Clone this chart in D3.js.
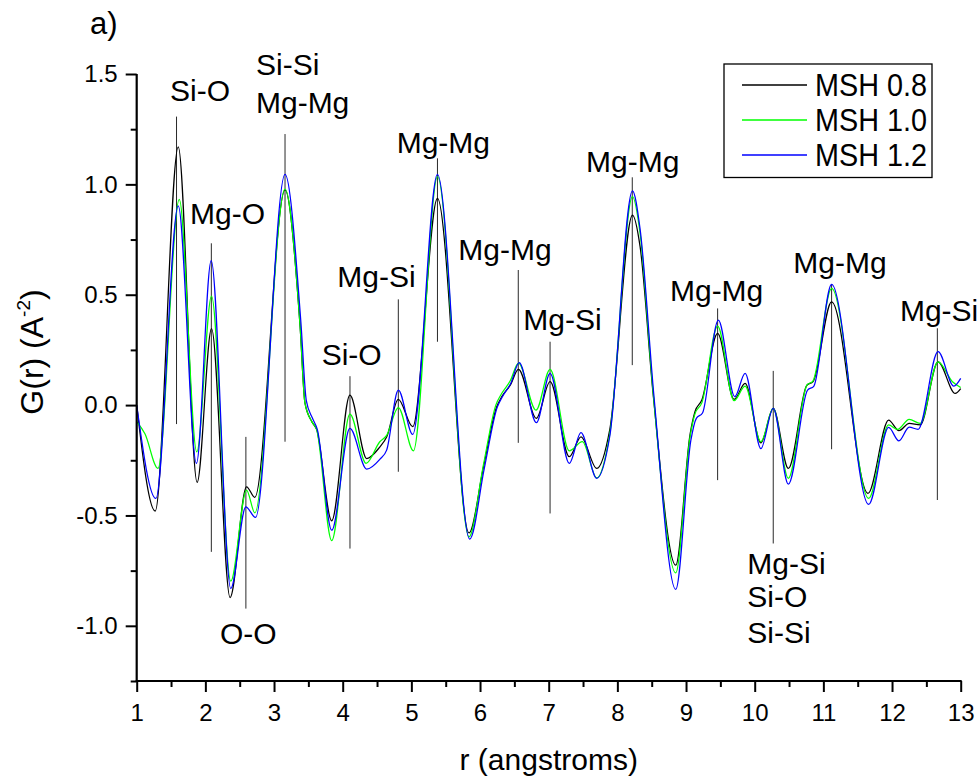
<!DOCTYPE html>
<html><head><meta charset="utf-8">
<script src="https://cdn.jsdelivr.net/npm/d3@7"></script>
<style>body{margin:0;background:#fff}svg{display:block;font-family:"Liberation Sans",Arial,sans-serif}</style>
</head><body><svg id="c" width="979" height="776"></svg>
<script>
// ---------- data ----------
const seriesNames = ["MSH 0.8", "MSH 1.0", "MSH 1.2"];
const seriesColors = ["#000000", "#00ff00", "#0000ff"];

const msh08 = [[1.00,0.00],[1.27,-0.48],[1.605,1.17],[1.88,-0.35],[2.09,0.346],[2.36,-0.872],[2.60,-0.37],[2.72,-0.418],
 [3.16,0.975],[3.38,0.355],[3.45,0.01],[3.55,-0.075],[3.62,-0.11],[3.84,-0.524],[4.105,0.045],[4.35,-0.242],[4.54,-0.19],
 [4.64,-0.145],[4.81,0.026],[5.02,-0.098],[5.38,0.937],[5.84,-0.579],[6.05,-0.28],[6.24,-0.01],[6.32,0.04],[6.44,0.09],
 [6.56,0.162],[6.82,-0.06],[7.02,0.106],[7.30,-0.234],[7.47,-0.144],[7.70,-0.287],[7.89,-0.11],[8.22,0.861],[8.33,0.72],
 [8.52,0.053],[8.85,-0.725],[9.06,-0.13],[9.13,-0.03],[9.23,0.023],[9.46,0.325],[9.70,0.026],[9.86,0.098],[10.09,-0.171],
 [10.27,-0.015],[10.49,-0.287],[10.76,0.09],[10.85,0.106],[11.12,0.468],[11.65,-0.40],[11.95,-0.068],[12.10,-0.116],
 [12.25,-0.083],[12.41,-0.09],[12.67,0.196],[12.92,0.053],[13.0,0.075]];

const msh10 = [[1.00,-0.075],[1.12,-0.13],[1.31,-0.287],[1.62,0.932],[1.875,-0.212],[2.09,0.494],[2.37,-0.798],[2.60,-0.385],
 [2.72,-0.488],[3.16,0.978],[3.38,0.355],[3.45,0.01],[3.55,-0.075],[3.62,-0.11],[3.84,-0.614],[4.105,-0.041],[4.34,-0.264],
 [4.54,-0.166],[4.64,-0.137],[4.81,-0.011],[5.03,-0.207],[5.38,1.035],[5.84,-0.597],[6.05,-0.27],[6.23,0.0],[6.31,0.05],
 [6.44,0.11],[6.56,0.19],[6.815,-0.023],[7.02,0.162],[7.30,-0.207],[7.49,-0.166],[7.70,-0.33],[7.89,-0.13],[8.22,0.944],
 [8.33,0.78],[8.52,0.06],[8.85,-0.76],[9.06,-0.14],[9.13,-0.04],[9.23,0.01],[9.46,0.358],[9.70,0.02],[9.86,0.086],
 [10.09,-0.166],[10.27,-0.015],[10.49,-0.332],[10.76,0.09],[10.85,0.11],[11.12,0.529],[11.66,-0.423],[11.95,-0.09],
 [12.08,-0.11],[12.25,-0.065],[12.41,-0.083],[12.67,0.196],[12.88,0.106],[13.0,0.08]];

const msh12 = [[1.00,0.00],[1.28,-0.423],[1.605,0.902],[1.87,-0.264],[2.085,0.654],[2.37,-0.831],[2.59,-0.461],[2.73,-0.509],
 [3.16,1.045],[3.39,0.38],[3.47,0.02],[3.56,-0.06],[3.63,-0.11],[3.84,-0.567],[4.105,-0.106],[4.35,-0.29],[4.54,-0.246],
 [4.64,-0.204],[4.81,0.068],[5.02,-0.133],[5.38,1.045],[5.85,-0.607],[6.06,-0.29],[6.25,-0.01],[6.33,0.04],[6.45,0.10],
 [6.57,0.192],[6.82,-0.08],[7.02,0.144],[7.30,-0.264],[7.47,-0.125],[7.70,-0.332],[7.89,-0.14],[8.22,0.971],[8.33,0.80],
 [8.53,0.05],[8.85,-0.835],[9.07,-0.16],[9.15,-0.06],[9.24,-0.036],[9.47,0.385],[9.71,0.038],[9.86,0.144],[10.09,-0.197],
 [10.27,-0.015],[10.49,-0.358],[10.77,0.068],[10.86,0.085],[11.12,0.547],[11.66,-0.45],[11.95,-0.101],[12.10,-0.162],
 [12.25,-0.10],[12.38,-0.11],[12.67,0.242],[12.90,0.086],[13.0,0.121]];

const xMajorTicks = [1,2,3,4,5,6,7,8,9,10,11,12,13];
const xMinorTicks = [1.5,2.5,3.5,4.5,5.5,6.5,7.5,8.5,9.5,10.5,11.5,12.5];
const yMajorTicks = [-1.0,-0.5,0.0,0.5,1.0,1.5];
const yMinorTicks = [-1.25,-0.75,-0.25,0.25,0.75,1.25];

// assignment marker lines: position r, top G, bottom G
const markR      = [1.58, 2.087, 2.59, 3.16, 4.106, 4.81, 5.38, 6.557, 7.02, 8.217, 9.46, 10.27, 11.12, 12.66];
const markTop    = [1.307, 0.733, -0.144, 1.228, 0.131, 0.479, 1.118, 0.612, 0.287, 1.032, 0.438, 0.155, 0.544, 0.348];
const markBottom = [-0.086, -0.665, -0.922, -0.166, -0.65, -0.302, 0.287, -0.171, -0.491, 0.181, -0.34, -0.627, -0.2, -0.43];

// assignment labels: text, left r, baseline G
const labelText = ["Si-O","Mg-O","O-O","Si-Si","Mg-Mg","Si-O","Mg-Si","Mg-Mg","Mg-Mg","Mg-Si","Mg-Mg","Mg-Mg",
  "Mg-Si","Si-O","Si-Si","Mg-Mg","Mg-Si"];
const labelR = [1.485, 1.776, 2.213, 2.737, 2.737, 3.694, 3.921, 4.786, 5.683, 6.63, 7.543, 8.766,
  9.892, 9.892, 9.892, 10.562, 12.115];
const labelG = [1.378, 0.820, -1.083, 1.496, 1.322, 0.181, 0.534, 1.144, 0.657, 0.34, 1.058, 0.471,
  -0.766, -0.914, -1.080, 0.60, 0.382];

// ---------- layout ----------
const W = 979, H = 776;
const plot = {left: 136.7, right: 960.7, top: 74, bottom: 681};
const svg = d3.select("#c");

const x = d3.scaleLinear().domain([1, 13]).range([plot.left, plot.right]);
const y = d3.scaleLinear().domain([-1.25, 1.5]).range([plot.bottom, plot.top]);

// marker lines
svg.append("g").selectAll("line").data(markR).join("line")
  .attr("x1", d => x(d)).attr("x2", d => x(d))
  .attr("y1", (d, i) => y(markTop[i])).attr("y2", (d, i) => y(markBottom[i]))
  .attr("stroke", "#2a2a2a").attr("stroke-width", 1);

// curves
const line = d3.line().x(d => x(d[0])).y(d => y(d[1])).curve(d3.curveMonotoneX);
[msh08, msh10, msh12].forEach((s, i) => {
  svg.append("path").datum(s).attr("d", line)
    .attr("fill", "none").attr("stroke", seriesColors[i]).attr("stroke-width", 1.25);
});

// labels
svg.append("g").selectAll("text").data(labelText).join("text")
  .attr("x", (d, i) => x(labelR[i])).attr("y", (d, i) => y(labelG[i]))
  .attr("font-size", 30).attr("fill", "#000").text(d => d);

// axes
const fmt = d => d.toFixed(1);
const xAxisMajor = d3.axisBottom(x).tickValues(xMajorTicks).tickSize(11).tickPadding(12).tickFormat(d3.format("d"));
const xAxisMinor = d3.axisBottom(x).tickValues(xMinorTicks).tickSize(6).tickFormat("");
const yAxisMajor = d3.axisLeft(y).tickValues(yMajorTicks).tickSize(11).tickPadding(8).tickFormat(fmt);
const yAxisMinor = d3.axisLeft(y).tickValues(yMinorTicks).tickSize(6).tickFormat("");

function styleAxis(g) {
  g.select(".domain").remove();
  g.selectAll(".tick line").attr("stroke", "#000").attr("stroke-width", 2);
  g.selectAll(".tick text").attr("font-size", 24).attr("fill", "#000")
    .attr("font-family", '"Liberation Sans",Arial,sans-serif');
}
svg.append("g").attr("transform", `translate(0,${plot.bottom})`).call(xAxisMajor).call(styleAxis);
svg.append("g").attr("transform", `translate(0,${plot.bottom})`).call(xAxisMinor).call(styleAxis);
svg.append("g").attr("transform", `translate(${plot.left},0)`).call(yAxisMajor).call(styleAxis);
svg.append("g").attr("transform", `translate(${plot.left},0)`).call(yAxisMinor).call(styleAxis);

// axis lines
svg.append("line").attr("x1", plot.left).attr("x2", plot.left).attr("y1", plot.top).attr("y2", plot.bottom + 1)
  .attr("stroke", "#000").attr("stroke-width", 2.2);
svg.append("line").attr("x1", plot.left - 1).attr("x2", plot.right + 1).attr("y1", plot.bottom).attr("y2", plot.bottom)
  .attr("stroke", "#000").attr("stroke-width", 2.2);

// axis titles
svg.append("text").attr("x", (plot.left + plot.right) / 2).attr("y", 770).attr("text-anchor", "middle")
  .attr("font-size", 30).text("r (angstroms)");

const yt = svg.append("text").attr("transform", "translate(43,352) rotate(-90)").attr("text-anchor", "middle")
  .attr("font-size", 32);
yt.append("tspan").text("G(r) (A");
yt.append("tspan").attr("font-size", 19).attr("dy", -13).text("-2");
yt.append("tspan").attr("dy", 13).text(")");

// panel label
svg.append("text").attr("x", 90).attr("y", 34).attr("font-size", 31).text("a)");

// legend
const lg = svg.append("g");
lg.append("rect").attr("x", 724).attr("y", 64).attr("width", 208).attr("height", 113.5)
  .attr("fill", "#fff").attr("stroke", "#000").attr("stroke-width", 1.3);
seriesNames.forEach((n, i) => {
  const yy = 85 + i * 35;
  lg.append("line").attr("x1", 742).attr("x2", 807).attr("y1", yy).attr("y2", yy)
    .attr("stroke", seriesColors[i]).attr("stroke-width", 1.3);
  lg.append("text").attr("x", 815).attr("y", yy + 10.7).attr("font-size", 32)
    .attr("textLength", 112).attr("lengthAdjust", "spacingAndGlyphs").text(n);
});
</script></body></html>
